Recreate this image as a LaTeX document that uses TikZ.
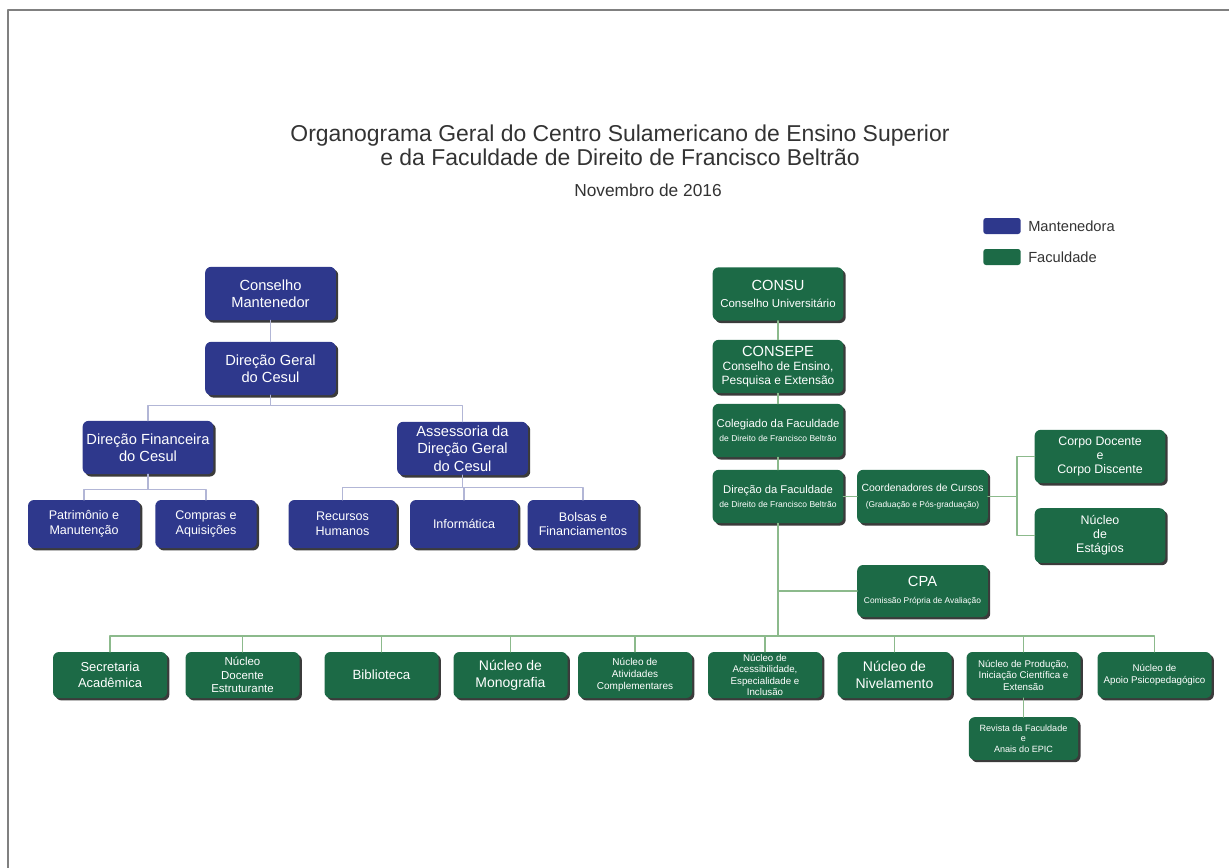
\documentclass[tikz,border=0pt]{standalone}
\usepackage{fontspec}
\setmainfont{Liberation Sans}
\usetikzlibrary{shadows}

\definecolor{mantblue}{RGB}{46,56,140}
\definecolor{facgreen}{RGB}{28,106,70}
\definecolor{mantline}{RGB}{178,182,214}
\definecolor{facline}{RGB}{140,186,140}

\newcommand{\fs}[2]{\fontsize{#1}{#2}\selectfont}

\tikzset{
  box/.style={rounded corners=4.5pt, text=white, align=center, inner sep=1pt,
    drop shadow={shadow xshift=1.8pt, shadow yshift=-1.8pt, fill=black!85, opacity=0.9}},
  mant/.style={box, fill=mantblue},
  fac/.style={box, fill=facgreen},
  bigsz/.style={minimum width=98pt, minimum height=40pt},
  smallsz/.style={minimum width=81pt, minimum height=36pt},
  rowsz/.style={minimum width=85.5pt, minimum height=34.5pt},
  mantlink/.style={draw=mantline, line width=1.3pt},
  faclink/.style={draw=facline, line width=1.3pt},
}

\begin{document}
\begin{tikzpicture}[x=0.75pt, y=-0.75pt, line cap=round, line join=round]
  \useasboundingbox (0,0) rectangle (1229,868);
  % frame
  \draw[black!50, line width=1.5pt] (8,868) -- (8,10) -- (1229,10);

  % title
  \node[align=center, text=black!80, font={\fs{17.2}{18}}] (title) at (620,145)
    {Organograma Geral do Centro Sulamericano de Ensino Superior\\e da Faculdade de Direito de Francisco Beltrão};
  \node[text=black!80, font={\fs{13}{15}}] (date) at (648,190) {Novembro de 2016};

  % legend
  \node[fill=mantblue, rounded corners=2pt, minimum width=28pt, minimum height=12pt, inner sep=0pt] (legm) at (1002,226) {};
  \node[fill=facgreen, rounded corners=2pt, minimum width=28pt, minimum height=12pt, inner sep=0pt] (legf) at (1002,257) {};
  \node[anchor=west, text=black!80, inner sep=0pt, font={\fs{11}{13}}] at (1028,226) {Mantenedora};
  \node[anchor=west, text=black!80, inner sep=0pt, font={\fs{11}{13}}] at (1028,257) {Faculdade};

  % mantenedora
  \node[mant, bigsz, font={\fs{11}{13}}] (cm) at (270.5,293.5) {Conselho\\Mantenedor};
  \node[mant, bigsz, font={\fs{11}{13}}] (dg) at (270.5,368.5) {Direção Geral\\do Cesul};
  \node[mant, bigsz, font={\fs{11}{13}}] (df) at (148,447.5) {Direção Financeira\\do Cesul};
  \node[mant, bigsz, font={\fs{11}{13}}] (ad) at (462.5,448.5) {Assessoria da\\Direção Geral\\do Cesul};
  \node[mant, smallsz, minimum width=84pt, font={\fs{9.4}{11}}] (pm) at (84,524) {Patrimônio e\\Manutenção};
  \node[mant, smallsz, minimum width=76pt, font={\fs{9.4}{11}}] (ca) at (206,524) {Compras e\\Aquisições};
  \node[mant, smallsz, font={\fs{9.4}{11}}] (rh) at (342.5,524) {Recursos\\Humanos};
  \node[mant, smallsz, font={\fs{9.4}{11}}] (inf) at (464,524) {Informática};
  \node[mant, smallsz, minimum width=83pt, font={\fs{9.4}{11}}] (bf) at (583,524) {Bolsas e\\Financiamentos};

  \draw[mantlink] (cm.south) -- (dg.north);
  \draw[mantlink] (dg.south) -- ++(0,10) -| (df.north);
  \draw[mantlink] (dg.south) -- ++(0,10) -| (ad.north);
  \foreach \n in {pm, ca}
    \draw[mantlink] (df.south) -- ++(0,15) -| (\n.north);
  \foreach \n in {rh, inf, bf}
    \draw[mantlink] (ad.south) -- ++(0,12) -| (\n.north);

  % faculdade
  \node[fac, bigsz, font={\fs{11}{13}}] (consu) at (778,294) {CONSU\\\fs{8.6}{11}Conselho Universitário};
  \node[fac, bigsz, font={\fs{9}{10.5}}] (consepe) at (778,366.5) {\fs{11}{13}CONSEPE\\Conselho de Ensino,\\Pesquisa e Extensão};
  \node[fac, bigsz, font={\fs{8.5}{10}}] (coleg) at (778,430.5) {Colegiado da Faculdade\\\fs{6.4}{9}de Direito de Francisco Beltrão};
  \node[fac, bigsz, font={\fs{8.4}{10}}] (dirfac) at (778,496.5) {Direção da Faculdade\\\fs{6.4}{9}de Direito de Francisco Beltrão};
  \node[fac, bigsz, font={\fs{7.8}{10}}] (coord) at (922.5,496.5) {Coordenadores de Cursos\\[2pt]\fs{6.3}{9}(Graduação e Pós-graduação)};
  \node[fac, bigsz, font={\fs{9.3}{10.5}}] (corpo) at (1100,456.5) {Corpo Docente\\e\\Corpo Discente};
  \node[fac, bigsz, minimum height=41pt, font={\fs{9.3}{10.5}}] (nest) at (1100,535.5) {Núcleo\\de\\Estágios};
  \node[fac, bigsz, minimum height=39pt, font={\fs{11}{13}}] (cpa) at (922.5,591) {CPA\\\fs{6.3}{9}Comissão Própria de Avaliação};

  \node[fac, rowsz, font={\fs{9.7}{11.5}}] (sec) at (110,675) {Secretaria\\Acadêmica};
  \node[fac, rowsz, font={\fs{8.6}{10}}] (ndc) at (242.5,675) {Núcleo\\Docente\\Estruturante};
  \node[fac, rowsz, font={\fs{10}{12}}] (bib) at (381.5,675) {Biblioteca};
  \node[fac, rowsz, font={\fs{10.5}{12.5}}] (mon) at (510.5,675) {Núcleo de\\Monografia};
  \node[fac, rowsz, font={\fs{7.5}{9}}] (ativ) at (635,675) {Núcleo de\\Atividades\\Complementares};
  \node[fac, rowsz, font={\fs{7.3}{8.6}}] (aces) at (765,675) {Núcleo de\\Acessibilidade,\\Especialidade e\\Inclusão};
  \node[fac, rowsz, font={\fs{10.5}{12.5}}] (niv) at (894.5,675) {Núcleo de\\Nivelamento};
  \node[fac, rowsz, font={\fs{7.3}{8.6}}] (prod) at (1023.5,675) {Núcleo de Produção,\\Iniciação Científica e\\Extensão};
  \node[fac, rowsz, font={\fs{7.3}{9}}] (apoio) at (1154.5,675) {Núcleo de\\Apoio Psicopedagógico};
  \node[fac, smallsz, minimum width=82pt, minimum height=32pt, font={\fs{6.8}{8}}] (rev) at (1023.5,738.5) {Revista da Faculdade\\e\\Anais do EPIC};

  \coordinate (bar) at (778,636);
  \coordinate (split) at (1017,496.5);
  \draw[faclink] (consu.south) -- (consepe.north);
  \draw[faclink] (consepe.south) -- (coleg.north);
  \draw[faclink] (coleg.south) -- (dirfac.north);
  \draw[faclink] (dirfac.east) -- (coord.west);
  \draw[faclink] (coord.east) -- (split);
  \draw[faclink] (split) |- (corpo.west);
  \draw[faclink] (split) |- (nest.west);
  \draw[faclink] (dirfac.south) -- (bar);
  \draw[faclink] (dirfac.south |- cpa.west) -- (cpa.west);
  \foreach \n in {sec, ndc, bib, mon, ativ, aces, niv, prod, apoio}
    \draw[faclink] (bar) -| (\n.north);
  \draw[faclink] (prod.south) -- (rev.north);
\end{tikzpicture}
\end{document}
